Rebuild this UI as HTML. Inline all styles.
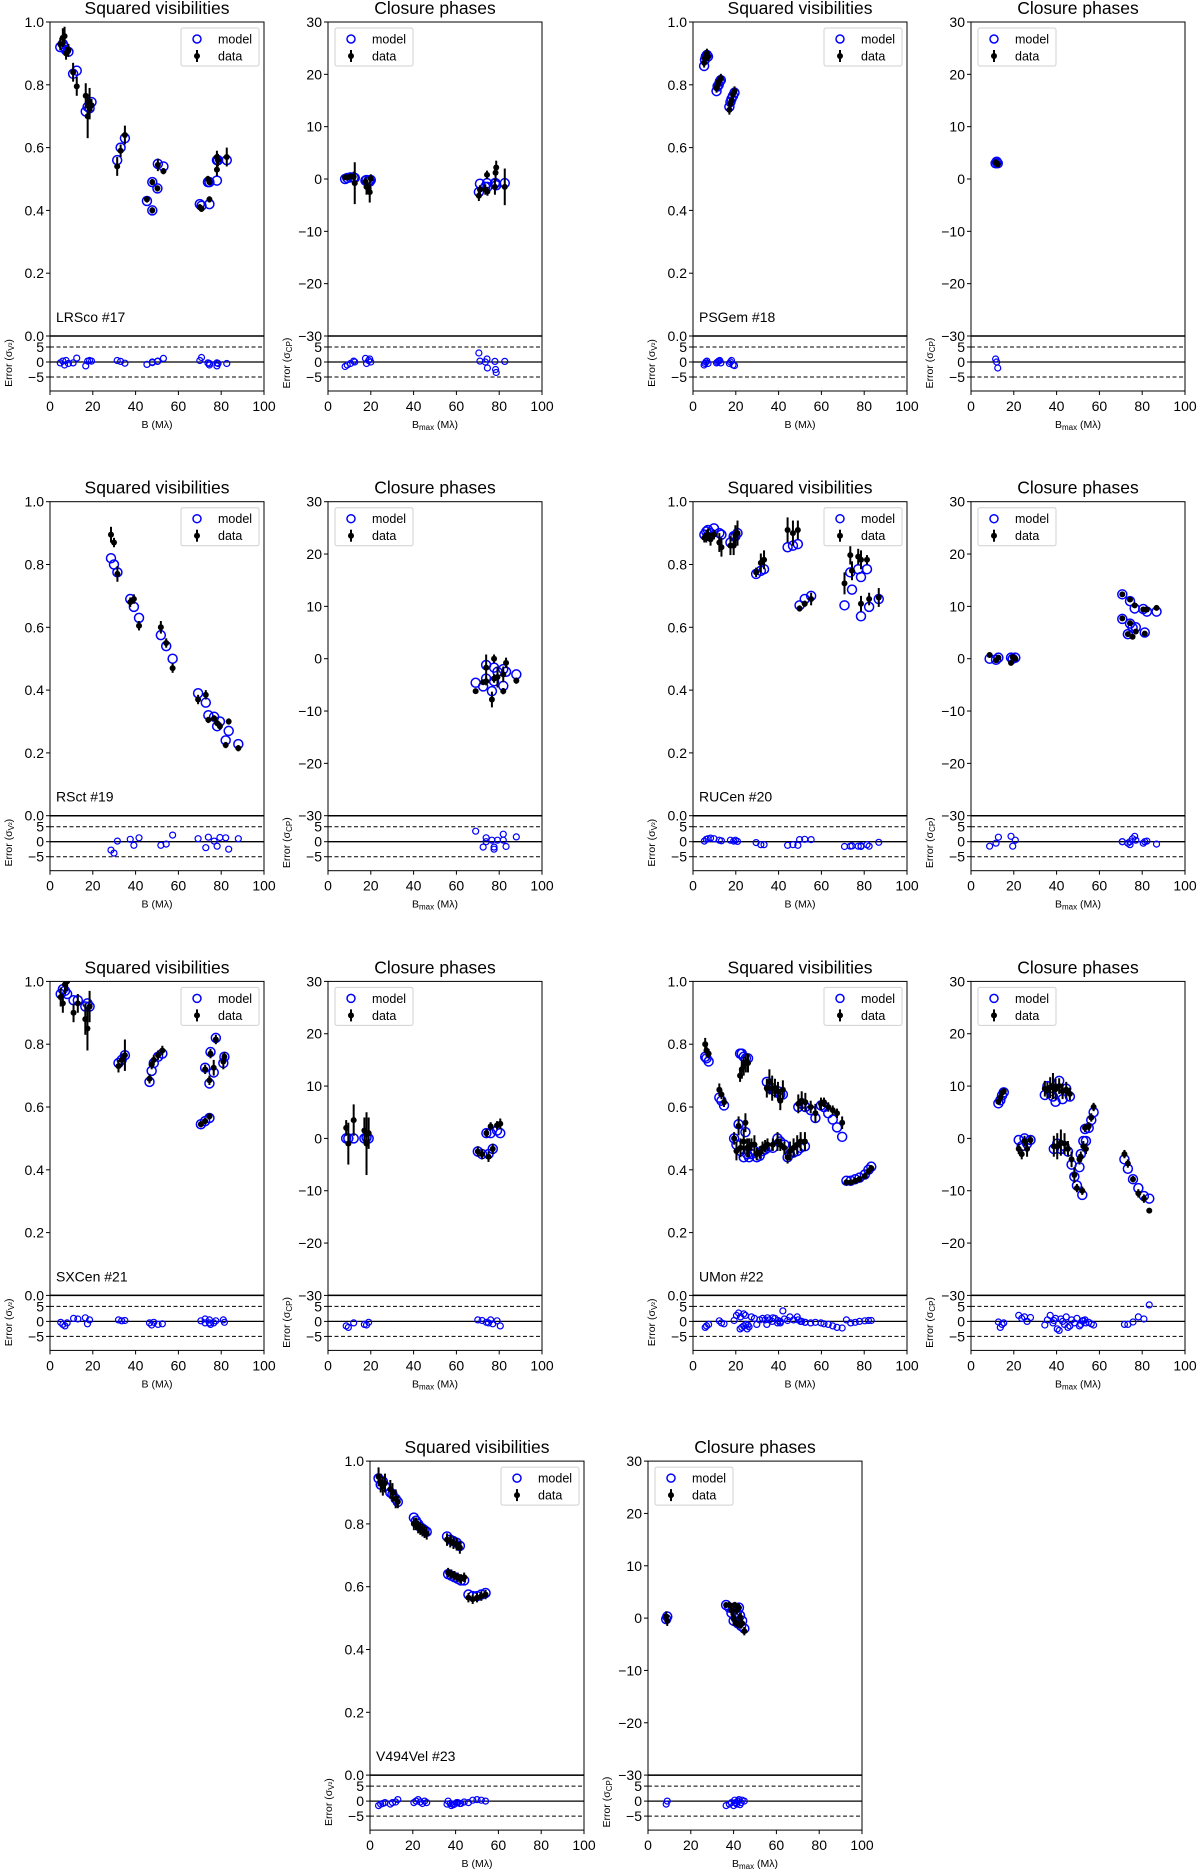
<!DOCTYPE html>
<html><head><meta charset="utf-8"><title>Model fits</title>
<style>
html,body{margin:0;padding:0;background:#fff;}
svg{display:block;font-family:"Liberation Sans","DejaVu Sans",sans-serif;}
</style></head>
<body>
<svg id="fig" width="1200" height="1870" viewBox="0 0 1200 1870" xmlns="http://www.w3.org/2000/svg">
<rect x="0" y="0" width="1200" height="1870" fill="#fff"/>
</svg>
<script>
// ===== LRSco #17 =====
const lrVisB=[4.8,6,6.8,7.5,8.6,10.8,12.5,16.7,17.6,18.5,19.4,31.4,33,35,45.3,47.8,47.8,50.2,50.4,53,70,70.8,73.8,74.5,74.5,78,78,78.5,82.6];
const lrVisM=[0.92,0.93,0.92,0.91,0.905,0.835,0.845,0.715,0.73,0.725,0.745,0.56,0.60,0.63,0.43,0.40,0.49,0.47,0.548,0.54,0.42,0.415,0.49,0.42,0.49,0.56,0.495,0.56,0.56];
const lrVisD=[0.93,0.95,0.955,0.90,0.91,0.84,0.795,0.765,0.70,0.74,0.735,0.54,0.59,0.64,0.435,0.40,0.49,0.47,0.545,0.525,0.41,0.405,0.50,0.435,0.49,0.57,0.53,0.56,0.57];
const lrVisE=[0.02,0.03,0.03,0.02,0.02,0.03,0.03,0.04,0.07,0.05,0.02,0.03,0.02,0.03,0.01,0.01,0.01,0.01,0.02,0.01,0.01,0.01,0.01,0.01,0.01,0.02,0.02,0.02,0.03];
const lrVisR=[-0.3,0.3,-1,0.5,-0.5,-0.3,1.3,-1.3,0.3,0.5,0.3,0.5,0.2,-0.4,-0.8,-0.2,0,0.2,0.3,1.2,0.5,1.5,-0.3,-1,-0.5,-0.3,-1.3,-0.5,-0.5];
const lrCpB=[8,9,10.5,12,12.5,17.5,18,19,19.5,20,70.5,71,73.5,74.3,74.5,78,78.3,78.6,82.6];
const lrCpM=[0,0.2,0.3,0.3,0.2,-0.3,-0.2,-0.3,-0.5,-0.2,-2.5,-0.9,-1.5,-0.8,-1.5,-0.8,-0.8,-1.2,-0.8];
const lrCpD=[0.3,0.3,0.5,0.4,-0.8,-0.5,-1.5,-1.8,-2.5,0.1,-3.2,-2,-2,0.8,-2.4,-1.5,1.2,2.2,-1.5];
const lrCpE=[0.5,0.5,0.5,1,4,0.8,1.5,1,2,0.8,1,0.8,1,0.8,0.8,1.5,1.5,1.3,3.5];
const lrCpR=[-1.5,-1,-0.5,0.3,0,1.2,-0.5,0.5,1,0,3,0.3,0,1,-2,0.2,-2.5,-3.5,0.2];
// ===== PSGem #18 =====
const psVisB=[5.2,5.6,6,6.5,7,11,11.5,12,12.5,13,17,17.5,18,18.7,19.4];
const psVisM=[0.86,0.88,0.89,0.895,0.89,0.78,0.795,0.80,0.81,0.815,0.73,0.745,0.755,0.765,0.775];
const psVisD=[0.87,0.885,0.895,0.90,0.89,0.79,0.80,0.81,0.815,0.82,0.72,0.74,0.75,0.77,0.78];
const psVisE=[0.015,0.015,0.015,0.015,0.015,0.015,0.015,0.015,0.015,0.015,0.015,0.015,0.015,0.015,0.015];
const psVisR=[-1,-0.5,0,0.3,-0.5,-0.3,0,0.3,0.5,-0.3,-0.5,0,0.5,-1,-1.2];
const psCpB=[11.5,12,12.5];
const psCpM=[3.0,3.3,3.0];
const psCpD=[3.2,3.0,2.8];
const psCpE=[0.5,0.7,0.5];
const psCpR=[1,0,-2];
// ===== RSct #19 =====
const rsVisB=[28.5,29.9,31.5,37.5,39.2,41.6,51.8,54.3,57.3,69.2,72.8,74,76.7,78.1,79.4,82.1,83.5,88];
const rsVisM=[0.82,0.80,0.775,0.69,0.665,0.63,0.575,0.54,0.50,0.39,0.36,0.32,0.315,0.285,0.30,0.24,0.27,0.228];
const rsVisD=[0.895,0.87,0.77,0.68,0.69,0.605,0.60,0.55,0.47,0.37,0.385,0.305,0.31,0.295,0.285,0.225,0.30,0.215];
const rsVisE=[0.025,0.015,0.025,0.015,0.015,0.015,0.02,0.015,0.015,0.015,0.015,0.01,0.01,0.01,0.01,0.01,0.01,0.01];
const rsVisR=[-2.8,-3.8,0.2,0.8,-1.2,1.3,-1.2,-0.8,2.2,1,-2,1.5,0.2,-1.5,1.4,1.3,-2.5,1];
const rsCpB=[69,72.5,73.9,73.9,76.6,77.6,77.6,79.2,81.9,81.9,83.2,88];
const rsCpM=[-4.6,-5.3,-1.2,-3.8,-6.2,-1.7,-4.3,-2.5,-5.2,-2,-2.5,-3];
const rsCpD=[-6.2,-4.5,-1.7,-4.3,-7.8,0,-3.8,-3.5,-6.2,-3,-0.8,-4.2];
const rsCpE=[0.5,0.5,2.5,0.8,1.5,0.8,0.8,2,0.6,1.5,1,0.6];
const rsCpR=[3.5,-1.8,1.3,0,0.5,-2.5,-1.8,0.5,2.5,0.5,-1.6,1.6];
// ===== RUCen #20 =====
const ruVisB=[5.3,6.2,7,8.2,9.8,12.3,13.3,17.5,19,19.8,20.8,29.5,31.7,33.2,44.2,46.7,49,49.8,52.2,55.2,70.8,73.5,74.3,77.2,78.5,78.5,82.3,81.3,86.8];
const ruVisM=[0.895,0.905,0.91,0.90,0.915,0.90,0.895,0.87,0.89,0.89,0.90,0.77,0.78,0.785,0.855,0.86,0.865,0.67,0.69,0.70,0.67,0.775,0.72,0.785,0.635,0.76,0.665,0.785,0.69];
const ruVisD=[0.885,0.89,0.895,0.88,0.895,0.87,0.855,0.86,0.86,0.895,0.90,0.775,0.805,0.815,0.91,0.90,0.91,0.66,0.675,0.69,0.74,0.83,0.78,0.825,0.675,0.815,0.69,0.815,0.695];
const ruVisE=[0.015,0.02,0.02,0.02,0.015,0.03,0.03,0.03,0.03,0.03,0.04,0.015,0.03,0.03,0.04,0.04,0.03,0.01,0.01,0.02,0.035,0.03,0.03,0.025,0.025,0.03,0.02,0.015,0.03];
const ruVisR=[0.2,0.8,1,1.2,1,0.5,0.3,0.5,0.2,0.5,0.1,-0.3,-1,-1,-1.2,-1,-1.2,0.7,0.8,0.7,-1.6,-1.5,-1.4,-1.5,-1.4,-1.6,-1.5,-1,-0.2];
const ruCpB=[8.7,11.7,12.8,18.7,19.5,20.7,70.7,70.7,73.3,74.3,74.3,76.5,75.5,77,80.5,81.2,82.2,86.7];
const ruCpM=[0,-0.2,0.2,0.2,0,0.2,12.3,7.6,4.7,11,6.7,9.6,5.9,6,9.5,5,9,9];
const ruCpD=[0.7,-0.3,0.2,-0.8,0.3,0,12.3,7.7,4.7,11.3,6.8,10.2,4.2,5.2,9.4,4.8,9.4,9.7];
const ruCpE=[0.5,0.4,0.3,0.5,0.3,0.3,0.3,0.3,0.3,0.3,0.3,0.4,0.3,0.3,0.3,0.3,0.3,0.5];
const ruCpR=[-1.5,-0.5,1.5,1.8,-1.5,0.5,0,0,-0.5,-1,0,1.8,1,0.5,-0.5,0,0.2,-0.8];
// ===== SXCen #21 =====
const sxVisB=[5,6,7,8,11,13,16.5,17.5,18.5,32,33.5,35,46.5,47.5,48.5,50.5,52.5,70.5,72.5,74.5,72.5,74.5,75,77.5,76.5,81,81.5];
const sxVisM=[0.96,0.975,0.97,0.96,0.94,0.94,0.92,0.93,0.92,0.74,0.75,0.765,0.68,0.715,0.74,0.76,0.77,0.545,0.555,0.565,0.725,0.675,0.775,0.82,0.71,0.74,0.76];
const sxVisD=[0.95,0.93,0.99,1.0,0.90,0.93,0.88,0.85,0.92,0.73,0.75,0.765,0.69,0.735,0.75,0.765,0.78,0.545,0.555,0.57,0.72,0.685,0.77,0.815,0.725,0.745,0.76];
const sxVisE=[0.03,0.03,0.03,0.03,0.03,0.03,0.05,0.07,0.05,0.02,0.02,0.05,0.015,0.015,0.015,0.015,0.015,0.01,0.01,0.01,0.015,0.015,0.015,0.015,0.025,0.025,0.015];
const sxVisR=[-0.3,-1,-1.5,-0.5,1,0.8,1.2,-0.8,0.5,0.5,0.2,0.3,-0.5,-1.2,-0.3,-1,-0.8,0.2,-0.5,0.5,0.8,-0.5,-1,0.2,-0.5,0.5,-0.3];
const sxCpB=[8.5,9.5,12,17,18,19,70,72,74,75,76,77,79,80.5];
const sxCpM=[0,0,0,0,0.2,0,-2.5,-3,1,-3,1,-2,1.5,1];
const sxCpD=[2,-1,3.5,1.5,-1,1,-2.5,-3,1,-3.5,2.3,-2,2.5,2.8];
const sxCpE=[1.5,4,3,2.5,6,3,1,1,0.8,1,0.8,1,0.8,1];
const sxCpR=[-1.5,-2,-0.5,-1,-1.2,-0.3,0.5,0.3,-0.3,-0.5,0.5,-0.8,0.2,-1.5];
// ===== UMon #22 =====
const umVisB=[5.7,6.3,7.3,12.3,13.3,14.5,19.2,20.3,21.3,22,22.8,23.7,24.7,25.7,22.2,23.7,24.5,25.3,26.2,27.3,28.7,29.8,31.2,32.5,33.7,34.8,34.5,35.7,37,38.3,39.7,40.8,42,37.3,39.5,40.8,42.7,44.2,45.3,47,48.7,50.3,52.3,49.2,50.8,52.5,55,57.2,59.8,61.2,63.2,65.3,67.3,69.7,71.7,73.7,75.8,77.8,80.3,82,83.3];
const umVisM=[0.76,0.755,0.745,0.63,0.62,0.605,0.50,0.48,0.545,0.77,0.77,0.76,0.755,0.755,0.46,0.44,0.52,0.45,0.44,0.45,0.46,0.44,0.445,0.46,0.465,0.47,0.68,0.66,0.66,0.65,0.65,0.64,0.64,0.47,0.50,0.49,0.48,0.44,0.45,0.455,0.46,0.47,0.475,0.60,0.61,0.60,0.59,0.565,0.605,0.60,0.58,0.56,0.535,0.505,0.365,0.365,0.37,0.375,0.385,0.40,0.41];
const umVisD=[0.80,0.78,0.77,0.655,0.64,0.615,0.50,0.46,0.54,0.70,0.72,0.73,0.74,0.74,0.47,0.49,0.55,0.47,0.47,0.48,0.48,0.45,0.455,0.47,0.475,0.48,0.66,0.68,0.66,0.66,0.65,0.62,0.655,0.48,0.49,0.48,0.47,0.44,0.46,0.47,0.48,0.49,0.49,0.61,0.62,0.615,0.60,0.58,0.61,0.615,0.60,0.59,0.58,0.55,0.36,0.36,0.365,0.37,0.38,0.395,0.405];
const umVisE=[0.02,0.02,0.015,0.02,0.015,0.015,0.02,0.03,0.03,0.02,0.03,0.03,0.03,0.03,0.03,0.04,0.03,0.03,0.03,0.02,0.03,0.02,0.02,0.02,0.02,0.02,0.03,0.04,0.04,0.03,0.03,0.03,0.03,0.02,0.03,0.02,0.02,0.02,0.03,0.03,0.03,0.03,0.03,0.03,0.03,0.03,0.02,0.03,0.02,0.015,0.015,0.015,0.015,0.02,0.01,0.01,0.01,0.01,0.01,0.01,0.01];
const umVisR=[-2,-1.5,-1,0.2,-0.5,-0.8,0.3,2,2.8,-2.5,-2,-1.5,-1,-1.2,1.5,2.5,2,-2.5,-1.8,1.5,1,-1,0.5,1,0.5,1.2,-1,0.5,0,1,0.3,-0.5,3.5,1.2,-0.5,0,0.8,0.3,1.5,0.5,1.5,0,-0.3,0.5,0,-0.3,-0.5,-0.3,-0.5,-0.8,-1,-1.5,-2,-2.2,0.5,-0.5,-0.3,0,0.2,0.3,0.3];
const umCpB=[12.8,13.7,14.5,15.3,22.3,23.7,25,26.2,27.8,34.5,35.7,37,38.3,39.5,41.2,42.8,44.5,46.2,38.7,40.3,42,43.7,45.3,47,48.3,49.5,50.7,52,51.3,52.5,53.7,53.3,55,56.2,57.3,71.7,73.3,75.7,78.2,80.8,83.3];
const umCpM=[6.7,7.3,8.2,8.8,-0.3,-1.5,0,-1,-0.3,8.3,10,9,8,7,11,7.5,9.5,8,-2,-1,-2,-1.5,-2.5,-5,-7.3,-9,-5.5,-10.8,-3,-0.5,-0.5,1.8,2,3.5,5,-4,-5.8,-7.8,-9.5,-11,-11.5];
const umCpD=[7,7.8,8.7,9,-2,-3,-0.5,-2,-0.3,9.5,9.2,9.7,10,9.4,10,9,9.3,8.5,-1.5,-1.5,-0.8,-1,-2,-4,-7,-9.5,-4,-10,-3.5,-1.5,-2,2,2.3,4,6,-3,-4.8,-7.8,-10.5,-11.5,-13.8];
const umCpE=[0.5,0.6,0.6,0.6,1,1,1,1.5,0.8,1.5,1.5,2,2.5,2,1.5,1.5,1.5,1.2,2,2.5,2.5,2,1.5,1.5,1.5,0.8,1,0.8,1,1,1,0.8,0.8,0.8,0.8,0.8,0.8,0.6,0.8,0.8,0.4];
const umCpR=[-0.2,-2,-1,-0.5,2,1,1.5,0,1.3,-1.2,0.5,2,-0.5,1,-3,0,1.5,-1.5,0.3,-2.5,0.8,-1,-2,0.5,-0.5,1,-1.5,0.2,-1,0.3,-0.5,0.5,-0.3,-0.8,-1.2,-1,-1,-0.2,1.5,0.8,5.5];
// ===== V494Vel #23 =====
const vvVisB=[4,5,6,7,9.5,10.5,12,13,20.5,21.5,22.5,23.5,24.5,25.5,26.5,36,37.5,39,40.5,42,36.5,38,39.5,41,42.5,44,46,48,50,52,54];
const vvVisM=[0.945,0.925,0.935,0.92,0.90,0.895,0.88,0.87,0.82,0.81,0.80,0.79,0.785,0.78,0.775,0.76,0.75,0.745,0.74,0.73,0.64,0.635,0.63,0.625,0.62,0.62,0.575,0.57,0.57,0.575,0.58];
const vvVisD=[0.95,0.93,0.92,0.93,0.91,0.90,0.88,0.87,0.80,0.80,0.79,0.785,0.78,0.775,0.77,0.75,0.745,0.74,0.735,0.725,0.645,0.64,0.635,0.63,0.625,0.63,0.565,0.56,0.565,0.57,0.575];
const vvVisE=[0.03,0.03,0.03,0.03,0.03,0.03,0.03,0.02,0.02,0.02,0.02,0.02,0.02,0.02,0.02,0.02,0.02,0.02,0.02,0.02,0.015,0.015,0.015,0.015,0.015,0.015,0.015,0.015,0.015,0.015,0.015];
const vvVisR=[-1.5,-1,-0.8,-0.5,-1,-0.5,-0.3,0.5,-0.5,0,0.5,-0.3,-0.8,0,-0.5,-1,-0.8,-1.2,-0.5,-0.8,0,-1.5,-1,-0.5,-0.8,-0.3,-0.5,0.3,0.5,0.3,0];
const vvCpB=[8.5,9,36.5,38,39,40,40.5,41,41.5,42,42.5,43,43.5,44,45];
const vvCpM=[-0.2,0.3,2.5,2,1,-0.5,2,0,1,-1,2,0.5,-1.5,-0.5,-2];
const vvCpD=[0.3,-0.5,2.5,2.5,1.5,0,2.5,-0.8,1.5,-1.2,2,0.2,-1.2,-1,-2.5];
const vvCpE=[1,1,0.5,0.6,1,1.5,0.6,0.8,0.8,0.8,0.8,0.8,0.8,0.8,0.8];
const vvCpR=[-1,0,-1.5,-1,-0.5,-1.5,0.3,-0.5,-1,0,0.5,-1.2,-0.5,0.3,0];

const xTicks=[0,20,40,60,80,100];
const visTicks=[0,0.2,0.4,0.6,0.8,1.0];
const visTickLabels=["0.0","0.2","0.4","0.6","0.8","1.0"];
const cpTicks=[-30,-20,-10,0,10,20,30];
const cpTickLabels=["\u221230","\u221220","\u221210","0","10","20","30"];
const errTicks=[5,0,-5];
const errTickLabels=["5","0","\u22125"];

const NS="http://www.w3.org/2000/svg";
const svg=document.getElementById('fig');
function mk(parent,tag,attrs,text){
  const el=document.createElementNS(NS,tag);
  for(const k in attrs) el.setAttribute(k,attrs[k]);
  if(text!==undefined) el.textContent=text;
  parent.appendChild(el);
  return el;
}
const W=214, MH=314, EH=55;

function panel(id,left,top,kind,B,M,D,E,R,star){
  const g=mk(svg,'g',{});
  
  
  const vis=(kind==='vis');
  const xs=b=>left+b/100*W;
  const ys=v=>vis? top+(1-v)*MH : top+(30-v)/60*MH;
  const errTop=top+MH;
  const ye=r=>errTop+26-r*3;
  const clipId='clip-'+id;
  const cp=mk(g,'clipPath',{id:clipId});
  mk(cp,'rect',{x:left,y:top,width:W,height:MH});
  // title
  const t=mk(g,'text',{x:left+W/2,y:top-8,'text-anchor':'middle','font-size':'17.5'},vis?'Squared visibilities':'Closure phases');
  
  
  // marks
  const marks=mk(g,'g',{'clip-path':'url(#'+clipId+')'});
  
  
  for(let i=0;i<B.length;i++){
    const m=mk(marks,'circle',{cx:xs(B[i]),cy:ys(M[i]),r:4.5,fill:'none',stroke:'#0000ff','stroke-width':1.5});
    
    
  }
  for(let i=0;i<B.length;i++){
    const eb=mk(marks,'line',{x1:xs(B[i]),x2:xs(B[i]),y1:ys(D[i]+E[i]),y2:ys(D[i]-E[i]),stroke:'#000','stroke-width':2});
    
    
    const d=mk(marks,'circle',{cx:xs(B[i]),cy:ys(D[i]),r:3,fill:'#000'});
    
    
  }
  // main frame
  const fr=mk(g,'rect',{x:left,y:top,width:W,height:MH,fill:'none',stroke:'#000','stroke-width':1});
  
  
  const tv=vis?visTicks:cpTicks, tl=vis?visTickLabels:cpTickLabels;
  for(let i=0;i<tv.length;i++){
    const y=ys(tv[i]);
    mk(g,'line',{x1:left-4,x2:left,y1:y,y2:y,stroke:'#000','stroke-width':1});
    const lb=mk(g,'text',{x:left-6,y:y+5,'text-anchor':'end','font-size':'14'},tl[i]);
    
    
  }
  // legend
  const lx=vis? left+W-83 : left+7, ly=top+6;
  const lg=mk(g,'g',{});
  
  
  mk(lg,'rect',{x:lx,y:ly,width:78,height:38,rx:2,fill:'#fff',stroke:'#d0d0d0','stroke-width':1});
  mk(lg,'circle',{cx:lx+16,cy:ly+11,r:4,fill:'none',stroke:'#0000ff','stroke-width':1.5});
  const l1=mk(lg,'text',{x:lx+37,y:ly+15.5,'font-size':'12.5'},'model');
  
  
  mk(lg,'line',{x1:lx+16,x2:lx+16,y1:ly+22,y2:ly+34,stroke:'#000','stroke-width':2});
  mk(lg,'circle',{cx:lx+16,cy:ly+28,r:3,fill:'#000'});
  const l2=mk(lg,'text',{x:lx+37,y:ly+32.5,'font-size':'12.5'},'data');
  
  
  if(star){
    const st=mk(g,'text',{x:left+6,y:top+MH-14,'font-size':'14'},star);
    
    
  }
  // error panel
  const eg=mk(g,'g',{});
  
  
  mk(eg,'line',{x1:left,x2:left+W,y1:ye(5),y2:ye(5),stroke:'#000','stroke-width':1,'stroke-dasharray':'4,2.5'});
  mk(eg,'line',{x1:left,x2:left+W,y1:ye(-5),y2:ye(-5),stroke:'#000','stroke-width':1,'stroke-dasharray':'4,2.5'});
  mk(eg,'line',{x1:left,x2:left+W,y1:ye(0),y2:ye(0),stroke:'#000','stroke-width':1.3});
  for(let i=0;i<B.length;i++){
    const rc=mk(eg,'circle',{cx:xs(B[i]),cy:ye(R[i]),r:3,fill:'none',stroke:'#0000ff','stroke-width':1.2});
    
    
  }
  mk(eg,'rect',{x:left,y:errTop,width:W,height:EH,fill:'none',stroke:'#000','stroke-width':1});
  mk(eg,'line',{x1:left,x2:left+W,y1:errTop,y2:errTop,stroke:'#000','stroke-width':1.5});
  for(let i=0;i<errTicks.length;i++){
    const y=ye(errTicks[i]);
    mk(eg,'line',{x1:left-4,x2:left,y1:y,y2:y,stroke:'#000','stroke-width':1});
    const lb=mk(eg,'text',{x:left-6,y:y+5,'text-anchor':'end','font-size':'14'},errTickLabels[i]);
    
    
  }
  for(let i=0;i<xTicks.length;i++){
    const x=xs(xTicks[i]);
    mk(eg,'line',{x1:x,x2:x,y1:errTop+EH,y2:errTop+EH+4,stroke:'#000','stroke-width':1});
    const lb=mk(eg,'text',{x:x,y:errTop+EH+20,'text-anchor':'middle','font-size':'14'},String(xTicks[i]));
    
    
  }
  // x label
  const xl=mk(eg,'text',{x:left+W/2,y:errTop+EH+37,'text-anchor':'middle','font-size':'10.5'});
  
  
  if(vis){ xl.textContent='B (M\u03bb)'; }
  else {
    mk(xl,'tspan',{},'B');
    mk(xl,'tspan',{'font-size':'8',dy:'2'},'max');
    mk(xl,'tspan',{dy:'-2'},' (M\u03bb)');
  }
  // y label for residual
  const cx=left-38, cy=errTop+27;
  const yl=mk(eg,'text',{x:cx,y:cy,'text-anchor':'middle','font-size':'10.5',transform:'rotate(-90 '+cx+' '+cy+')'});
  
  
  mk(yl,'tspan',{},'Error (\u03c3');
  mk(yl,'tspan',{'font-size':'8',dy:'2'},vis?'V\u00b2':'CP');
  mk(yl,'tspan',{dy:'-2'},')');
}

const rowTop=[22,501.7,981.4,1461.1];
const colA=[50,328], colB=[693,971], colC=[370,648];
panel('lrsco-vis',colA[0],rowTop[0],'vis',lrVisB,lrVisM,lrVisD,lrVisE,lrVisR,'LRSco #17');
panel('lrsco-cp',colA[1],rowTop[0],'cp',lrCpB,lrCpM,lrCpD,lrCpE,lrCpR,null);
panel('psgem-vis',colB[0],rowTop[0],'vis',psVisB,psVisM,psVisD,psVisE,psVisR,'PSGem #18');
panel('psgem-cp',colB[1],rowTop[0],'cp',psCpB,psCpM,psCpD,psCpE,psCpR,null);
panel('rsct-vis',colA[0],rowTop[1],'vis',rsVisB,rsVisM,rsVisD,rsVisE,rsVisR,'RSct #19');
panel('rsct-cp',colA[1],rowTop[1],'cp',rsCpB,rsCpM,rsCpD,rsCpE,rsCpR,null);
panel('rucen-vis',colB[0],rowTop[1],'vis',ruVisB,ruVisM,ruVisD,ruVisE,ruVisR,'RUCen #20');
panel('rucen-cp',colB[1],rowTop[1],'cp',ruCpB,ruCpM,ruCpD,ruCpE,ruCpR,null);
panel('sxcen-vis',colA[0],rowTop[2],'vis',sxVisB,sxVisM,sxVisD,sxVisE,sxVisR,'SXCen #21');
panel('sxcen-cp',colA[1],rowTop[2],'cp',sxCpB,sxCpM,sxCpD,sxCpE,sxCpR,null);
panel('umon-vis',colB[0],rowTop[2],'vis',umVisB,umVisM,umVisD,umVisE,umVisR,'UMon #22');
panel('umon-cp',colB[1],rowTop[2],'cp',umCpB,umCpM,umCpD,umCpE,umCpR,null);
panel('v494vel-vis',colC[0],rowTop[3],'vis',vvVisB,vvVisM,vvVisD,vvVisE,vvVisR,'V494Vel #23');
panel('v494vel-cp',colC[1],rowTop[3],'cp',vvCpB,vvCpM,vvCpD,vvCpE,vvCpR,null);
</script>
</body></html>
